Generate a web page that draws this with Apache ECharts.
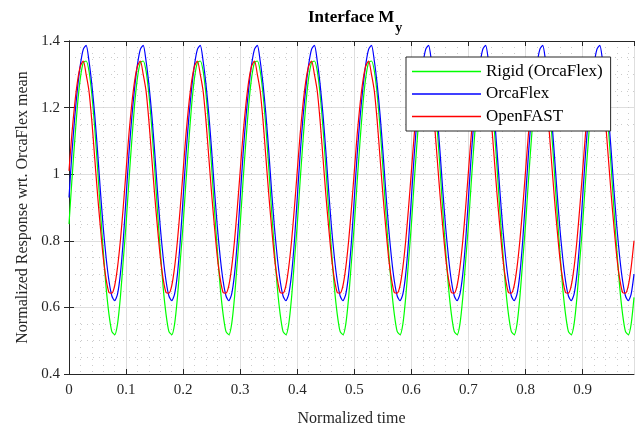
<!DOCTYPE html>
<html><head><meta charset="utf-8">
<script src="https://cdn.jsdelivr.net/npm/echarts@6/dist/echarts.min.js"></script>
<style>html,body{margin:0;padding:0;background:#fff}#c{width:635px;height:430px}</style>
</head><body><div id="c"></div>
<script>
const titleMain = 'Interface M';
const titleSub = 'y';
const xName = 'Normalized time';
const yName = 'Normalized Response wrt. OrcaFlex mean';
const seriesNames = ['Rigid (OrcaFlex)', 'OrcaFlex', 'OpenFAST'];
const seriesColors = ['#00ff00', '#0000ff', '#ff0000'];
const xTicks = [0, 0.1, 0.2, 0.3, 0.4, 0.5, 0.6, 0.7, 0.8, 0.9];
const yTicks = [0.4, 0.6, 0.8, 1, 1.2, 1.4];
const timeStep = 0.005;

const rigid = [
0.85,0.98,1.10,1.21,1.29,1.335,1.34,1.31,1.24,1.14,1.02,0.89,0.77,0.66,0.58,0.528,0.518,0.55,0.63,0.74,
0.85,0.98,1.10,1.21,1.29,1.335,1.34,1.31,1.24,1.14,1.02,0.89,0.77,0.66,0.58,0.528,0.518,0.55,0.63,0.74,
0.85,0.98,1.10,1.21,1.29,1.335,1.34,1.31,1.24,1.14,1.02,0.89,0.77,0.66,0.58,0.528,0.518,0.55,0.63,0.74,
0.85,0.98,1.10,1.21,1.29,1.335,1.34,1.31,1.24,1.14,1.02,0.89,0.77,0.66,0.58,0.528,0.518,0.55,0.63,0.74,
0.85,0.98,1.10,1.21,1.29,1.335,1.34,1.31,1.24,1.14,1.02,0.89,0.77,0.66,0.58,0.528,0.518,0.55,0.63,0.74,
0.85,0.98,1.10,1.21,1.29,1.335,1.34,1.31,1.24,1.14,1.02,0.89,0.77,0.66,0.58,0.528,0.518,0.55,0.63,0.74,
0.85,0.98,1.10,1.21,1.29,1.335,1.34,1.31,1.24,1.14,1.02,0.89,0.77,0.66,0.58,0.528,0.518,0.55,0.63,0.74,
0.85,0.98,1.10,1.21,1.29,1.335,1.34,1.31,1.24,1.14,1.02,0.89,0.77,0.66,0.58,0.528,0.518,0.55,0.63,0.74,
0.85,0.98,1.10,1.21,1.29,1.335,1.34,1.31,1.24,1.14,1.02,0.89,0.77,0.66,0.58,0.528,0.518,0.55,0.63,0.74,
0.85,0.98,1.10,1.21,1.29,1.335,1.34,1.31,1.24,1.14,1.02,0.89,0.77,0.66,0.58,0.528,0.518,0.55,0.63
];
const orcaflex = [
0.93,1.06,1.17,1.26,1.33,1.375,1.387,1.34,1.27,1.18,1.07,0.95,0.84,0.75,0.68,0.635,0.62,0.64,0.70,0.80,
0.93,1.06,1.17,1.26,1.33,1.375,1.387,1.34,1.27,1.18,1.07,0.95,0.84,0.75,0.68,0.635,0.62,0.64,0.70,0.80,
0.93,1.06,1.17,1.26,1.33,1.375,1.387,1.34,1.27,1.18,1.07,0.95,0.84,0.75,0.68,0.635,0.62,0.64,0.70,0.80,
0.93,1.06,1.17,1.26,1.33,1.375,1.387,1.34,1.27,1.18,1.07,0.95,0.84,0.75,0.68,0.635,0.62,0.64,0.70,0.80,
0.93,1.06,1.17,1.26,1.33,1.375,1.387,1.34,1.27,1.18,1.07,0.95,0.84,0.75,0.68,0.635,0.62,0.64,0.70,0.80,
0.93,1.06,1.17,1.26,1.33,1.375,1.387,1.34,1.27,1.18,1.07,0.95,0.84,0.75,0.68,0.635,0.62,0.64,0.70,0.80,
0.93,1.06,1.17,1.26,1.33,1.375,1.387,1.34,1.27,1.18,1.07,0.95,0.84,0.75,0.68,0.635,0.62,0.64,0.70,0.80,
0.93,1.06,1.17,1.26,1.33,1.375,1.387,1.34,1.27,1.18,1.07,0.95,0.84,0.75,0.68,0.635,0.62,0.64,0.70,0.80,
0.93,1.06,1.17,1.26,1.33,1.375,1.387,1.34,1.27,1.18,1.07,0.95,0.84,0.75,0.68,0.635,0.62,0.64,0.70,0.80,
0.93,1.06,1.17,1.26,1.33,1.375,1.387,1.34,1.27,1.18,1.07,0.95,0.84,0.75,0.68,0.635,0.62,0.64,0.70
];
const openfast = [
1.01,1.12,1.21,1.28,1.325,1.34,1.30,1.25,1.16,1.05,0.94,0.84,0.75,0.685,0.645,0.643,0.665,0.72,0.80,0.90,
1.01,1.12,1.21,1.28,1.325,1.34,1.30,1.25,1.16,1.05,0.94,0.84,0.75,0.685,0.645,0.643,0.665,0.72,0.80,0.90,
1.01,1.12,1.21,1.28,1.325,1.34,1.30,1.25,1.16,1.05,0.94,0.84,0.75,0.685,0.645,0.643,0.665,0.72,0.80,0.90,
1.01,1.12,1.21,1.28,1.325,1.34,1.30,1.25,1.16,1.05,0.94,0.84,0.75,0.685,0.645,0.643,0.665,0.72,0.80,0.90,
1.01,1.12,1.21,1.28,1.325,1.34,1.30,1.25,1.16,1.05,0.94,0.84,0.75,0.685,0.645,0.643,0.665,0.72,0.80,0.90,
1.01,1.12,1.21,1.28,1.325,1.34,1.30,1.25,1.16,1.05,0.94,0.84,0.75,0.685,0.645,0.643,0.665,0.72,0.80,0.90,
1.01,1.12,1.21,1.28,1.325,1.34,1.30,1.25,1.16,1.05,0.94,0.84,0.75,0.685,0.645,0.643,0.665,0.72,0.80,0.90,
1.01,1.12,1.21,1.28,1.325,1.34,1.30,1.25,1.16,1.05,0.94,0.84,0.75,0.685,0.645,0.643,0.665,0.72,0.80,0.90,
1.01,1.12,1.21,1.28,1.325,1.34,1.30,1.25,1.16,1.05,0.94,0.84,0.75,0.685,0.645,0.643,0.665,0.72,0.80,0.90,
1.01,1.12,1.21,1.28,1.325,1.34,1.30,1.25,1.16,1.05,0.94,0.84,0.75,0.685,0.645,0.643,0.665,0.72,0.80
];
const time = rigid.map((_, i) => +(i * timeStep).toFixed(3));

const FONT = 'Liberation Serif';
const AX = '#262626';
const chart = echarts.init(document.getElementById('c'), null, {renderer: 'canvas'});

function pairs(vals) { return time.map((t, i) => [t, vals[i]]); }

const commonAxis = {
  axisLine: {show: true, lineStyle: {color: AX, width: 1}},
  axisTick: {show: true, inside: true, length: 5, lineStyle: {color: AX}},
};

chart.setOption({
  animation: false,
  backgroundColor: '#ffffff',
  title: {
    text: '{a|' + titleMain + '}{s|' + titleSub + '}',
    left: 303, top: 4,
    textStyle: {
      rich: {
        a: {fontFamily: FONT, fontSize: 17, fontWeight: 'bold', color: '#000', verticalAlign: 'top', lineHeight: 18},
        s: {fontFamily: FONT, fontSize: 14, fontWeight: 'bold', color: '#000', verticalAlign: 'top', lineHeight: 14, padding: [12, 0, 0, 1]}
      }
    }
  },
  grid: {left: 69, right: 1, top: 41, bottom: 56, containLabel: false, outerBoundsMode: 'none'},
  legend: {
    orient: 'vertical', left: 406, top: 57, z: 20, zlevel: 0,
    padding: [6, 8, 6, 6],
    icon: 'rect',
    itemWidth: 69, itemHeight: 1.5, itemGap: 5.5,
    backgroundColor: '#ffffff',
    borderColor: AX, borderWidth: 1,
    textStyle: {fontFamily: FONT, fontSize: 17, color: '#000', lineHeight: 17, height: 17},
    data: seriesNames
  },
  xAxis: [
    Object.assign({}, commonAxis, {
      type: 'value', min: 0, max: 0.99, interval: 0.1, position: 'bottom',
      name: xName, nameLocation: 'middle', nameGap: 37,
      nameTextStyle: {fontFamily: FONT, fontSize: 16, color: AX},
      axisLabel: {fontFamily: FONT, fontSize: 15, color: AX, margin: 9, showMaxLabel: false,
        formatter: v => (xTicks.indexOf(+v.toFixed(3)) >= 0 ? String(+v.toFixed(3)) : '')},
      splitLine: {show: true, lineStyle: {color: '#dedede', width: 1}},
      minorTick: {show: false, splitNumber: 5},
      minorSplitLine: {show: true, lineStyle: {color: '#cccccc', width: 1, type: [1, 5]}}
    }),
    Object.assign({}, commonAxis, {
      type: 'value', min: 0, max: 0.99, interval: 0.1, position: 'top',
      axisLabel: {show: false}, splitLine: {show: false}
    })
  ],
  yAxis: [
    Object.assign({}, commonAxis, {
      type: 'value', min: 0.4, max: 1.4, interval: 0.2, position: 'left',
      name: yName, nameLocation: 'middle', nameGap: 37,
      nameTextStyle: {fontFamily: FONT, fontSize: 16, color: AX},
      axisLabel: {fontFamily: FONT, fontSize: 15, color: AX, margin: 9,
        formatter: v => (yTicks.indexOf(+v.toFixed(3)) >= 0 ? String(+v.toFixed(3)) : '')},
      splitLine: {show: true, lineStyle: {color: '#dedede', width: 1}},
      minorTick: {show: false, splitNumber: 4},
      minorSplitLine: {show: true, lineStyle: {color: '#cccccc', width: 1, type: [1, 5]}}
    }),
    Object.assign({}, commonAxis, {
      type: 'value', min: 0.4, max: 1.4, interval: 0.2, position: 'right',
      axisLabel: {show: false}, splitLine: {show: false}
    })
  ],
  series: [rigid, orcaflex, openfast].map((vals, k) => ({
    name: seriesNames[k], type: 'line', data: pairs(vals),
    xAxisIndex: 0, yAxisIndex: 0,
    symbol: 'none', smooth: 0.25,
    lineStyle: {color: seriesColors[k], width: 1.2},
    itemStyle: {color: seriesColors[k]},
    z: 2 + k
  }))
});
</script></body></html>
